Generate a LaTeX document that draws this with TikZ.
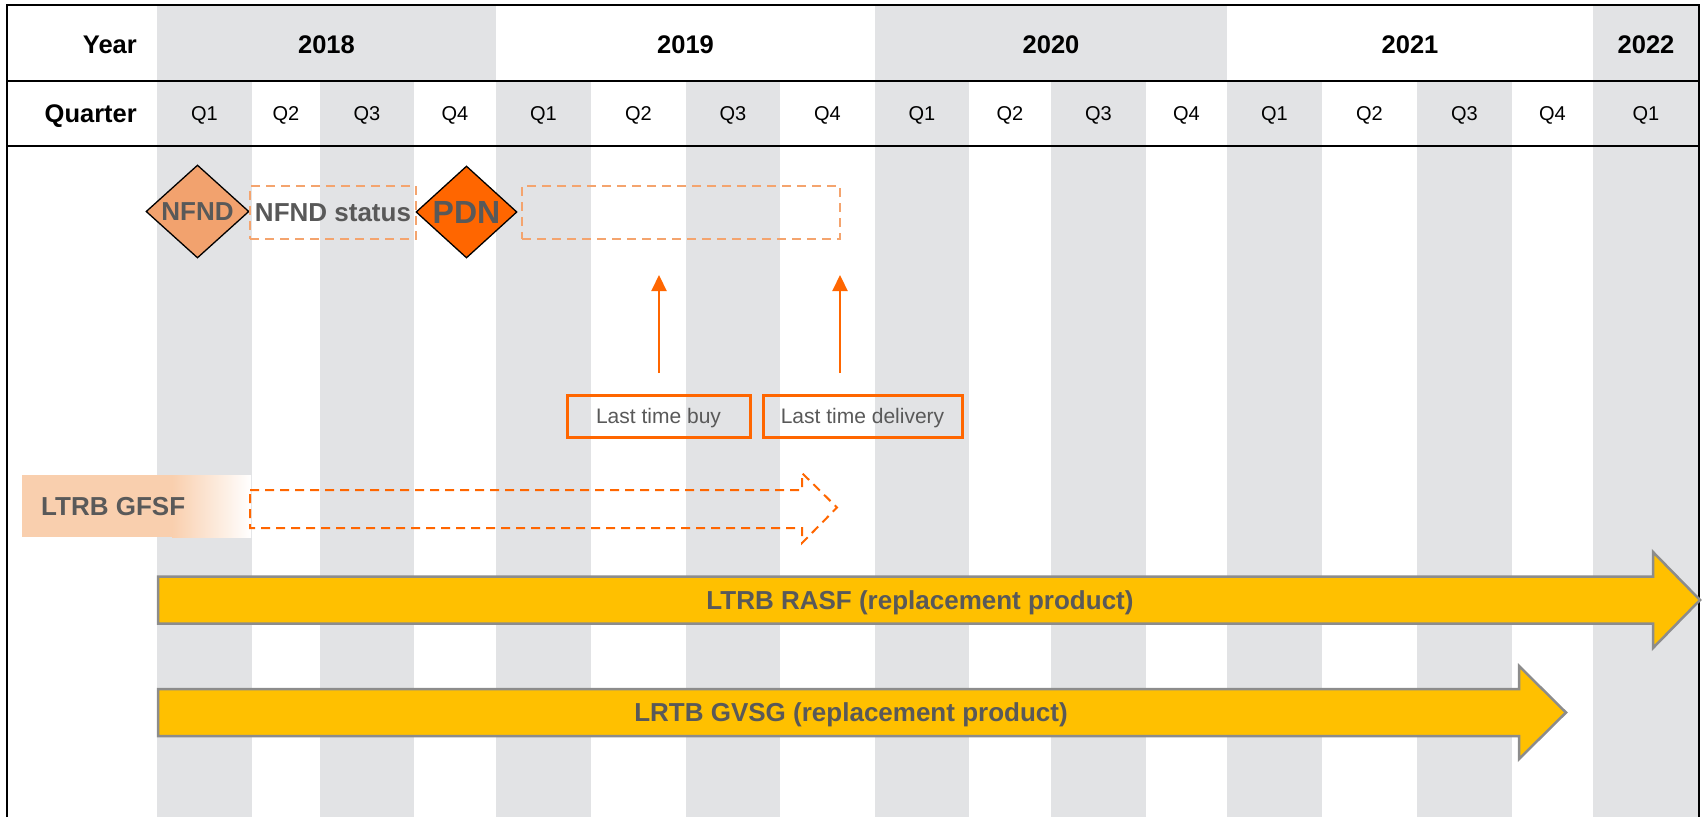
\documentclass[tikz,border=0pt]{standalone}
\usepackage{fontspec}
\setmainfont{Liberation Sans}
\usetikzlibrary{arrows.meta,shapes.geometric}
\definecolor{stripe}{HTML}{E2E3E5}
\definecolor{txtgray}{HTML}{595959}
\definecolor{orng}{HTML}{FF6600}
\definecolor{lorng}{HTML}{F2A26E}
\definecolor{dashor}{HTML}{F4A46E}
\definecolor{peach}{HTML}{F9CFAE}
\definecolor{gold}{HTML}{FFC000}
\definecolor{bordergray}{HTML}{8C8C8C}
\begin{document}
\begin{tikzpicture}[x=1pt,y=-1pt,
  txt/.style={inner sep=0pt, text depth=0pt},
  hdr/.style={txt, text height=18.3pt, font=\fontsize{25.5}{28}\selectfont\bfseries, text=black},
  qtr/.style={txt, text height=14.3pt, font=\fontsize{20}{24}\selectfont, text=black},
  boldgray/.style={txt, text height=18.6pt, font=\fontsize{26}{30}\selectfont\bfseries, text=txtgray},
  biggray/.style={txt, text height=22.9pt, font=\fontsize{32}{36}\selectfont\bfseries, text=txtgray},
  smallgray/.style={txt, text height=15pt, font=\fontsize{21}{25}\selectfont, text=txtgray},
  dbox/.style={draw=dashor, line width=2pt, dash pattern=on 9pt off 6pt, inner sep=0pt},
  obox/.style={draw=orng, line width=3pt, inner sep=0pt},
  milestone/.style={diamond, draw=black, line width=1.3pt, inner sep=0pt},
  uparrow/.style={draw=orng, line width=2.2pt, -{Triangle[width=15pt,length=16pt]}},
  barrow/.style={fill=gold, draw=bordergray, line width=2.5pt, line join=miter}
]
\useasboundingbox (0,0) rectangle (1705,817);
% stripes
\foreach \a/\b in {157/252,320/414,496/591,686/780,875/969,1051/1146,1227/1322,1417/1512,1593/1699}
  \fill[stripe] (\a,81) rectangle (\b,817);
\fill[stripe] (157,5) rectangle (496,81);
\fill[stripe] (875,5) rectangle (1227,81);
\fill[stripe] (1593,5) rectangle (1699,81);
% frame and header lines
\draw[line width=2.2pt] (7,817) -- (7,5) -- (1699,5) -- (1699,817);
\draw[line width=2pt] (7,81) -- (1699,81);
\draw[line width=2pt] (7,146) -- (1699,146);
% header texts
\node[hdr, anchor=east] (yearlbl) at (137,44) {Year};
\node[hdr, anchor=east] (qlbl) at (137,113.5) {Quarter};
\node[hdr] (y2018) at (326.5,44) {2018};
\node[hdr] (y2019) at (685.5,44) {2019};
\node[hdr] (y2020) at (1051,44) {2020};
\node[hdr] (y2021) at (1410,44) {2021};
\node[hdr] (y2022) at (1646,44) {2022};
\foreach \x/\q [count=\i] in {204.5/Q1,286/Q2,367/Q3,455/Q4,543.5/Q1,638.5/Q2,733/Q3,827.5/Q4,922/Q1,1010/Q2,1098.5/Q3,1186.5/Q4,1274.5/Q1,1369.5/Q2,1464.5/Q3,1552.5/Q4,1646/Q1}
  \node[qtr] (q\i) at (\x,113.5) {\q};
% milestones
\node[milestone, fill=lorng, minimum width=103pt, minimum height=93pt] (nfnd) at (197.5,211.5) {};
\node[boldgray] (nfndt) at (nfnd.center) {NFND};
\node[dbox, minimum width=166pt, minimum height=53pt] (nstat) at (333,212) {};
\node[boldgray] (nstatt) at (nstat.center) {NFND status};
\node[milestone, fill=orng, minimum width=101pt, minimum height=92pt] (pdn) at (466.5,212) {};
\node[biggray] (pdnt) at (pdn.center) {PDN};
\node[dbox, minimum width=318pt, minimum height=53pt] (pbox) at (681,212.5) {};
% last time boxes and arrows
\node[obox, minimum width=183pt, minimum height=42pt] (ltb) at (658.5,416) {};
\node[smallgray] (ltbt) at (ltb.center) {Last time buy};
\node[obox, minimum width=199pt, minimum height=42pt] (ltd) at (862.5,416) {};
\node[smallgray] (ltdt) at (ltd.center) {Last time delivery};
\coordinate (a1s) at (659,373);
\coordinate (a1e) at (659,275);
\coordinate (a2s) at (840,373);
\coordinate (a2e) at (840,275);
\draw[uparrow] (a1s) -- (a1e);
\draw[uparrow] (a2s) -- (a2e);
% LTRB GFSF
\fill[peach] (22,475) rectangle (172,537);
\shade[left color=peach, right color=white] (172,475) rectangle (251,537);
\node[boldgray, anchor=west] (gfsf) at (41,506) {LTRB GFSF};
\draw[draw=orng, line width=2pt, dash pattern=on 9pt off 6pt, line join=miter]
  (250,490) -- (802,490) -- (802,473) -- (837,507.5) -- (802,543) -- (802,528) -- (250,528) -- cycle;
% replacement arrows
\draw[barrow] (158,576.5) -- (1653,576.5) -- (1653,552) -- (1700,600) -- (1653,648) -- (1653,623.5) -- (158,623.5) -- cycle;
\node[boldgray] (rasf) at (920,600) {LTRB RASF (replacement product)};
\draw[barrow] (158,689) -- (1519,689) -- (1519,666) -- (1566,712.5) -- (1519,759) -- (1519,736) -- (158,736) -- cycle;
\node[boldgray] (gvsg) at (851,712.5) {LRTB GVSG (replacement product)};
\end{tikzpicture}
\end{document}
